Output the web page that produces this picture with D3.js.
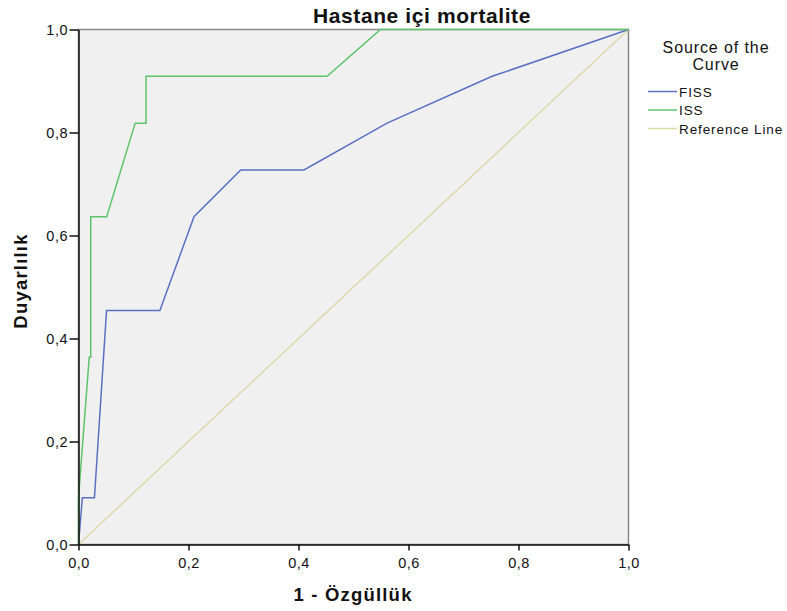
<!DOCTYPE html>
<html>
<head>
<meta charset="utf-8">
<title>Hastane içi mortalite</title>
<style>
  body { margin: 0; background: #fff; }
  text { font-family: "Liberation Sans", Arial, sans-serif; fill: #111; }
</style>
</head>
<body>
<svg width="787" height="611"></svg>
<script src="https://d3js.org/d3.v7.min.js"></script>
<script>
// ROC curve data (1 - specificity, sensitivity)
const fissX = [0, 0.007, 0.029, 0.051, 0.148, 0.210, 0.295, 0.410, 0.561, 0.752, 1];
const fissY = [0, 0.0909, 0.0909, 0.4545, 0.4545, 0.6364, 0.7273, 0.7273, 0.8182, 0.9091, 1];
const issX = [0, 0, 0.0195, 0.0222, 0.0222, 0.0513, 0.103, 0.1228, 0.1228, 0.452, 0.549, 1];
const issY = [0, 0.0909, 0.3636, 0.3636, 0.6364, 0.6364, 0.8182, 0.8182, 0.9091, 0.9091, 1, 1];
const refX = [0, 1];
const refY = [0, 1];
const ticks = [0, 0.2, 0.4, 0.6, 0.8, 1.0];
const seriesNames = ['FISS', 'ISS', 'Reference Line'];
const seriesColors = ['#5a6fc2', '#5cc46a', '#ddd8ac'];

const svg = d3.select('svg');
const margin = { top: 29.5, left: 78.5, right: 158.5, bottom: 66.5 };
const width = +svg.attr('width');
const height = +svg.attr('height');
const innerW = width - margin.left - margin.right;
const innerH = height - margin.top - margin.bottom;

const x = d3.scaleLinear().domain([0, 1]).range([0, innerW]);
const y = d3.scaleLinear().domain([0, 1]).range([innerH, 0]);
const fmt = d => d3.format('.1f')(d).replace('.', ',');

const g = svg.append('g').attr('transform', `translate(${margin.left},${margin.top})`);

g.append('rect')
  .attr('width', innerW).attr('height', innerH)
  .attr('fill', '#f0f0f0')
  .attr('stroke', '#888').attr('stroke-width', 1.5);

const toPts = (xs, ys) => xs.map((v, i) => [v, ys[i]]);
const line = d3.line().x(d => x(d[0])).y(d => y(d[1]));

const series = [toPts(fissX, fissY), toPts(issX, issY), toPts(refX, refY)];
// reference line first, then FISS, then ISS on top
[2, 0, 1].forEach(i => {
  g.append('path')
    .datum(series[i])
    .attr('d', line)
    .attr('fill', 'none')
    .attr('stroke', seriesColors[i])
    .attr('stroke-width', 1.5);
});

const xAxis = g.append('g')
  .attr('transform', `translate(0,${innerH})`)
  .call(d3.axisBottom(x).tickValues(ticks).tickFormat(fmt)
    .tickSize(6).tickPadding(7.5).tickSizeOuter(0));
const yAxis = g.append('g')
  .call(d3.axisLeft(y).tickValues(ticks).tickFormat(fmt)
    .tickSize(9).tickPadding(1.5).tickSizeOuter(0));
[xAxis, yAxis].forEach(a => {
  a.select('.domain').attr('stroke', '#111').attr('stroke-width', 1.5);
  a.selectAll('.tick line').attr('stroke', '#111').attr('stroke-width', 1.5);
  a.selectAll('.tick text').attr('font-size', 14.5).attr('fill', '#222')
    .attr('letter-spacing', 0.5)
    .attr('font-family', '"Liberation Sans", Arial, sans-serif');
});

svg.append('text')
  .attr('x', 422).attr('y', 23)
  .attr('text-anchor', 'middle')
  .attr('font-size', 21).attr('font-weight', 'bold')
  .attr('letter-spacing', 0.6)
  .text('Hastane içi mortalite');

svg.append('text')
  .attr('x', 353).attr('y', 601)
  .attr('text-anchor', 'middle')
  .attr('font-size', 18.5).attr('font-weight', 'bold')
  .attr('letter-spacing', 1.2)
  .text('1 - Özgüllük');

svg.append('text')
  .attr('transform', 'translate(27,281) rotate(-90)')
  .attr('text-anchor', 'middle')
  .attr('font-size', 18.5).attr('font-weight', 'bold')
  .attr('letter-spacing', 1.2)
  .text('Duyarlılık');

// legend
const leg = svg.append('g').attr('transform', 'translate(648,0)');
leg.append('text').attr('x', 68).attr('y', 53).attr('text-anchor', 'middle')
  .attr('font-size', 16).attr('letter-spacing', 0.9).attr('fill', '#222').text('Source of the');
leg.append('text').attr('x', 68).attr('y', 70).attr('text-anchor', 'middle')
  .attr('font-size', 16).attr('letter-spacing', 0.9).attr('fill', '#222').text('Curve');
seriesNames.forEach((name, i) => {
  const yy = 91.5 + i * 18.5;
  leg.append('line').attr('x1', 0).attr('x2', 29).attr('y1', yy).attr('y2', yy)
    .attr('stroke', seriesColors[i]).attr('stroke-width', 1.5);
  leg.append('text').attr('x', 31).attr('y', yy + 5)
    .attr('font-size', 13.5).attr('letter-spacing', 0.9).attr('fill', '#111').text(name);
});
</script>
</body>
</html>
